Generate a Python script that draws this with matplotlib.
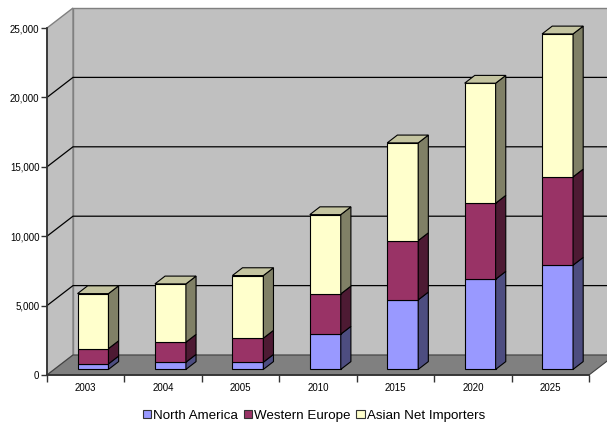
import matplotlib.pyplot as plt
from matplotlib.patches import Polygon, Patch
from matplotlib.ticker import FuncFormatter

plt.rcParams['font.family'] = ['Liberation Sans', 'DejaVu Sans']

years = ['2003', '2004', '2005', '2010', '2015', '2020', '2025']
north_america = [400, 520, 520, 2540, 5010, 6500, 7510]
western_europe = [1100, 1440, 1730, 2900, 4270, 5475, 6360]
asian_importers = [3960, 4200, 4510, 5710, 7040, 8645, 10300]
series_names = ['North America', 'Western Europe', 'Asian Net Importers']
y_ticks = [0, 5000, 10000, 15000, 20000, 25000]

front_colors = ['#9999FF', '#993366', '#FFFFCC']
side_colors = ['#4D4D80', '#4D1A33', '#808066']
top_colors = ['#7A7ACC', '#7A2952', '#C4C4A0']

n = len(years)
ymax = 25000

fig = plt.figure(figsize=(6.07, 4.23), dpi=100)
ax = fig.add_axes([47 / 607, 48 / 423, 542 / 607, 347 / 423])
ax.set_xlim(0, n)
ax.set_ylim(0, ymax)
ax.patch.set_visible(False)

# depth vector of the fake 3d box, in data units
px_x = 542 / n
px_y = 347 / ymax
DX = 26 / px_x
DV = 20 / px_y


def proj(x, v, z):
    return (x + z * DX, v + z * DV)


def poly(pts, fc, ec='black', lw=0.8, z=1):
    p = Polygon(pts, closed=True, facecolor=fc, edgecolor=ec, linewidth=lw,
                clip_on=False, zorder=z, joinstyle='miter')
    ax.add_patch(p)


# walls and floor
poly([proj(0, 0, 1), proj(n, 0, 1), proj(n, ymax, 1), proj(0, ymax, 1)],
     '#C0C0C0', ec='#808080', lw=1.0, z=0.1)
poly([proj(0, 0, 0), proj(0, 0, 1), proj(0, ymax, 1), proj(0, ymax, 0)],
     '#C0C0C0', ec='#808080', lw=1.0, z=0.1)
poly([proj(0, 0, 0), proj(n, 0, 0), proj(n, 0, 1), proj(0, 0, 1)],
     '#808080', ec='#404040', lw=0.8, z=0.2)

for v in y_ticks[1:-1]:
    xs, ys = zip(proj(0, v, 0), proj(0, v, 1), proj(n, v, 1))
    ax.plot(xs, ys, color='black', lw=0.9, clip_on=False, zorder=0.3)

# stacked bars with front, side and top faces
series = [north_america, western_europe, asian_importers]
bar_w = 0.40
z0, z1 = 0.28, 0.67
for i in range(n):
    x0 = i + 0.5 - bar_w / 2
    x1 = i + 0.5 + bar_w / 2
    base = 0
    for k, vals in enumerate(series):
        top = base + vals[i]
        zo = 2 + i
        poly([proj(x0, base, z0), proj(x1, base, z0), proj(x1, top, z0), proj(x0, top, z0)],
             front_colors[k], z=zo)
        poly([proj(x1, base, z0), proj(x1, base, z1), proj(x1, top, z1), proj(x1, top, z0)],
             side_colors[k], z=zo)
        if k == len(series) - 1:
            poly([proj(x0, top, z0), proj(x1, top, z0), proj(x1, top, z1), proj(x0, top, z1)],
                 top_colors[k], z=zo)
        base = top

# axes lines and ticks
for s in ['top', 'right']:
    ax.spines[s].set_visible(False)
for s in ['left', 'bottom']:
    ax.spines[s].set_color('#333333')
    ax.spines[s].set_linewidth(1.3)
    ax.spines[s].set_zorder(20)

ax.set_yticks(y_ticks)
ax.yaxis.set_major_formatter(FuncFormatter(lambda v, p: f'{v:,.0f}'))
ax.tick_params(axis='y', length=4, width=1, pad=1.5, labelsize=7, color='#333333')

ax.set_xticks(range(n + 1))
ax.set_xticklabels([])
ax.set_xticks([i + 0.5 for i in range(n)], minor=True)
ax.set_xticklabels(years, minor=True)
ax.tick_params(axis='x', which='major', length=5, width=1, color='#333333')
ax.tick_params(axis='x', which='minor', length=0, pad=6, labelsize=7)

handles = [Patch(facecolor=c, edgecolor='#333333', linewidth=0.8) for c in front_colors]
fig.legend(handles, series_names, loc='lower center', bbox_to_anchor=(0.517, 0.0),
           ncol=3, frameon=False, fontsize=9.6, handlelength=0.65, handleheight=0.65,
           handletextpad=0.15, columnspacing=0.4, borderpad=0.1, borderaxespad=0.0)

fig.savefig('out.png', dpi=100)
